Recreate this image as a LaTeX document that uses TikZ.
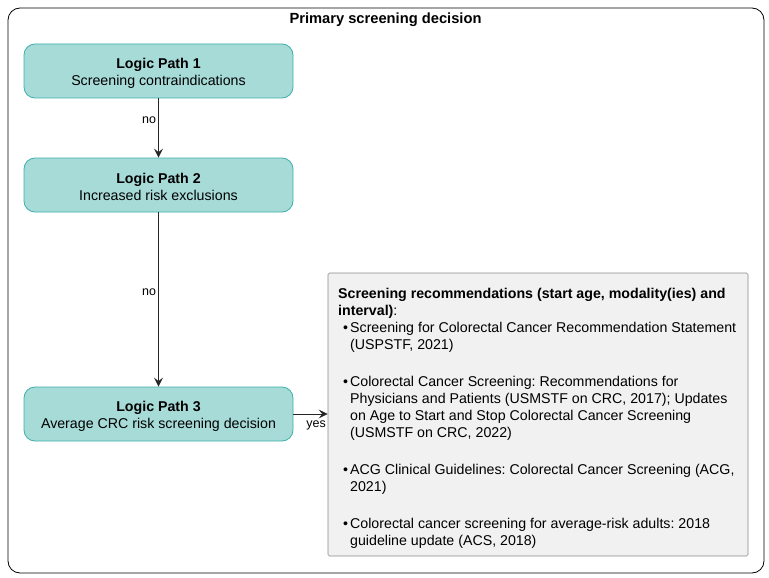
\documentclass[tikz,border=0pt]{standalone}
\usepackage{fontspec}
\setmainfont{Liberation Sans}
\frenchspacing
\usetikzlibrary{arrows.meta}
\definecolor{pathfill}{HTML}{A6DBD8}
\definecolor{pathdraw}{HTML}{3DB0A9}
\definecolor{notefill}{HTML}{F1F1F1}
\definecolor{notedraw}{HTML}{8A8A8A}
\tikzset{
  pathbox/.style={draw=pathdraw, fill=pathfill, rounded corners=11pt, minimum width=269pt, minimum height=54pt, align=center, font=\fontsize{14.2}{17}\selectfont, line width=0.8pt, inner sep=0pt},
  pathtext/.style={align=center, font=\fontsize{14.2}{17}\selectfont, inner sep=0pt},
  conn/.style={draw=black!85, line width=1pt, -{Stealth[length=9pt,width=9pt,inset=3.5pt]}},
  elabel/.style={font=\fontsize{12.5}{14}\selectfont, inner sep=2pt},
}
\begin{document}
\frenchspacing
\begin{tikzpicture}[x=1pt,y=-1pt]
\useasboundingbox (0,0) rectangle (769,578);
\draw[line width=0.8pt, rounded corners=12pt] (8,8) rectangle (764,573);
\node[font=\bfseries\fontsize{14.7}{16}\selectfont] (title) at (385.5,19.5) {Primary screening decision};
\node[pathbox] (p1) at (158.5,71) {};
\node[pathtext] (p1t) at (158.5,73) {\textbf{Logic Path 1}\\Screening contraindications};
\node[pathbox] (p2) at (158.5,185) {};
\node[pathtext] (p2t) at (158.5,187) {\textbf{Logic Path 2}\\Increased risk exclusions};
\node[pathbox] (p3) at (158.5,414) {};
\node[pathtext] (p3t) at (158.5,416) {\textbf{Logic Path 3}\\Average CRC risk screening decision};
\node[draw=notedraw, fill=notefill, rounded corners=1.5pt, line width=0.6pt, minimum width=420pt, minimum height=283pt, inner sep=0pt] (note) at (538,414.5) {};
\node[anchor=north west, align=left, inner sep=0pt, font=\fontsize{14.2}{17}\selectfont] (notetext) at (338,288.5) {%
\textbf{Screening recommendations (start age, modality(ies) and}\\
\textbf{interval)}:\\
\hspace*{5pt}\makebox[7pt][l]{\textbullet}Screening for Colorectal Cancer Recommendation Statement\\
\hspace*{12pt}(USPSTF, 2021)\\[3pt]
\hspace*{12pt}\\
\hspace*{5pt}\makebox[7pt][l]{\textbullet}Colorectal Cancer Screening: Recommendations for\\
\hspace*{12pt}Physicians and Patients (USMSTF on CRC, 2017); Updates\\
\hspace*{12pt}on Age to Start and Stop Colorectal Cancer Screening\\
\hspace*{12pt}(USMSTF on CRC, 2022)\\[3pt]
\hspace*{12pt}\\
\hspace*{5pt}\makebox[7pt][l]{\textbullet}ACG Clinical Guidelines: Colorectal Cancer Screening (ACG,\\
\hspace*{12pt}2021)\\[3pt]
\hspace*{12pt}\\
\hspace*{5pt}\makebox[7pt][l]{\textbullet}Colorectal cancer screening for average-risk adults: 2018\\
\hspace*{12pt}guideline update (ACS, 2018)};
\draw[conn] (p1) -- node[elabel, left, pos=0.37] {no} (p2);
\draw[conn] (p2) -- node[elabel, left, pos=0.46] {no} (p3);
\draw[conn] (p3.east) -- node[elabel, below, pos=0.66, yshift=-4pt] {yes} (p3.east -| note.west);
\end{tikzpicture}
\end{document}
